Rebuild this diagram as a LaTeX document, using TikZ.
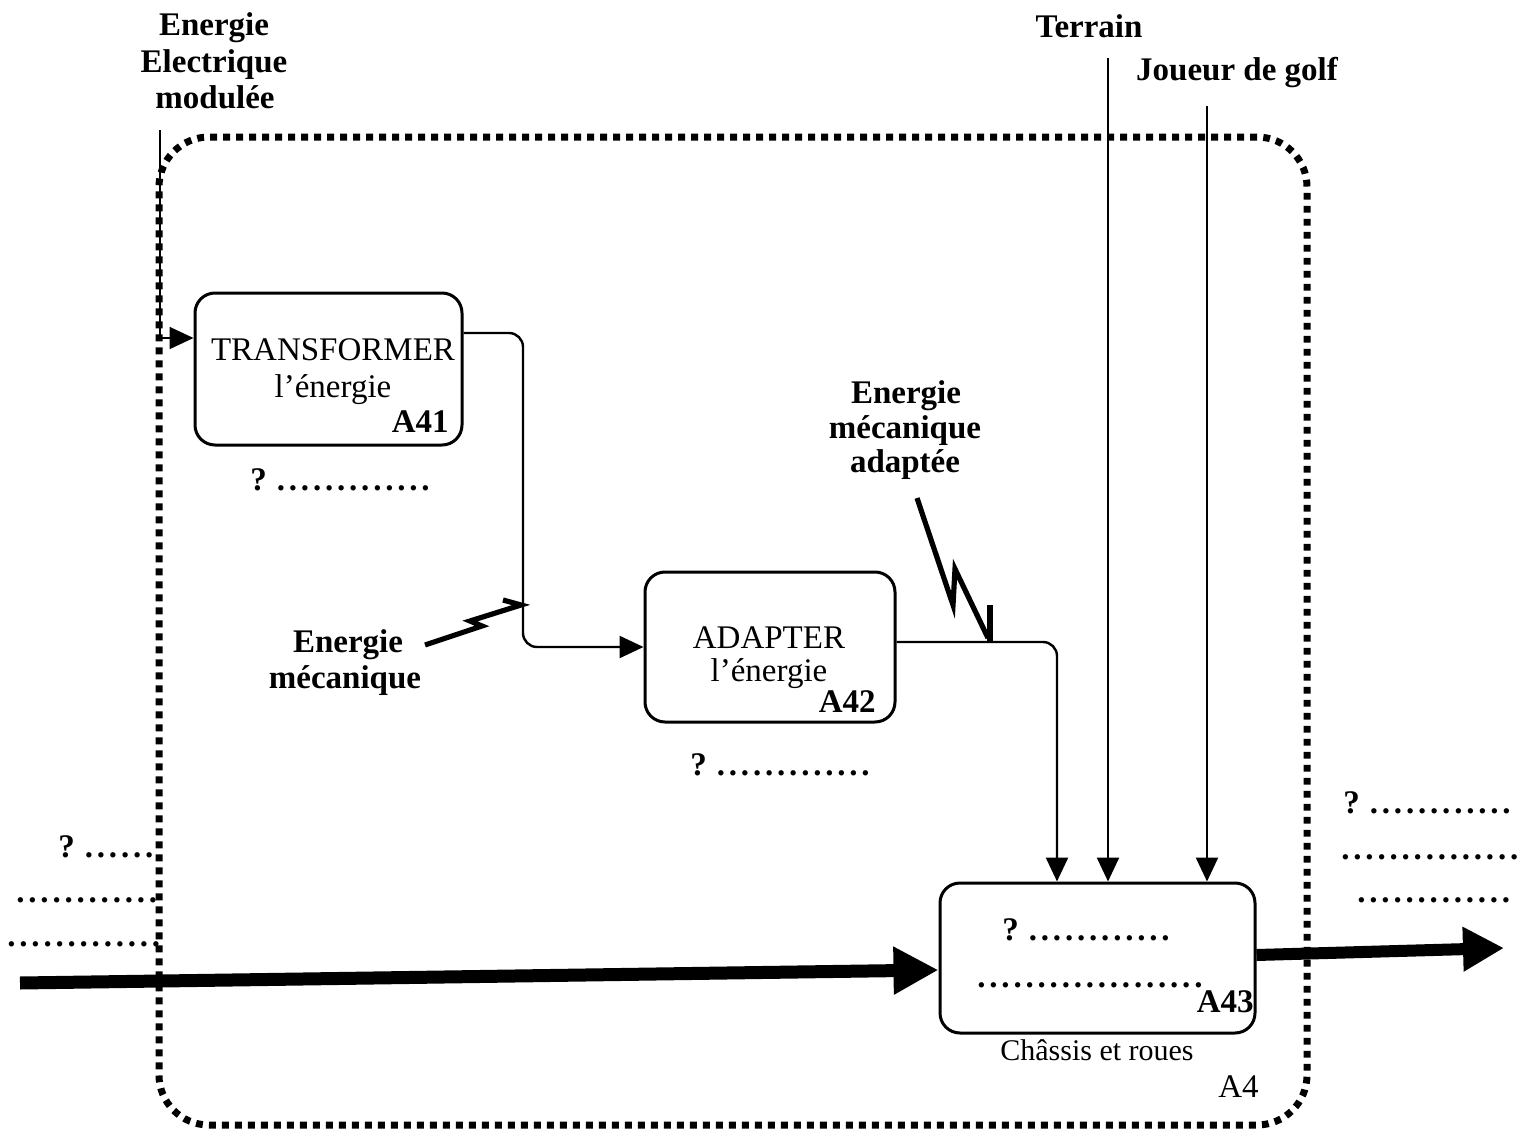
\documentclass[tikz,border=0pt]{standalone}
\usepackage{fontspec}
\setmainfont{Liberation Serif}
\usetikzlibrary{arrows.meta,calc}
\newcommand\dotrow[1]{.\foreach\i in {2,...,#1}{\kern1.9pt.}}
\begin{document}
\begin{tikzpicture}[x=0.5pt,y=-0.5pt,
  lbl/.style={font=\fontsize{16.5}{18}\selectfont\bfseries, inner sep=0pt, anchor=base},
  txt/.style={font=\fontsize{16.5}{18}\selectfont, inner sep=0pt},
  bld/.style={font=\fontsize{16.5}{18}\selectfont\bfseries, inner sep=0pt},
  func/.style={draw, line width=1.5pt, rounded corners=10pt, inner sep=0pt},
  frame/.style={draw, line width=3.5pt, dash pattern=on 3.4pt off 3.1pt, rounded corners=25pt, inner sep=0pt},
  flow/.style={line width=1.2pt, -{Triangle[length=12pt,width=11pt]}},
  bolt/.style={line width=2.6pt},
  bigflow/.style={line width=6.5pt, -{Triangle[length=22.5pt,width=22.5pt]}},
]
\useasboundingbox (0,0) rectangle (1528,1135);

% frame A4
\node[frame, minimum width=574pt, minimum height=494pt] (A4f) at (733,631) {};

% function boxes
\node[func, minimum width=133.5pt, minimum height=76pt] (A41) at (328.5,369) {};
\node[func, minimum width=125pt, minimum height=75pt] (A42) at (770,647) {};
\node[func, minimum width=157.5pt, minimum height=75pt] (A43) at (1097.5,958) {};

% box texts
\node[txt, anchor=base] (t41a) at (333,360) {TRANSFORMER};
\node[txt, anchor=base] (t41b) at (333,397) {l’énergie};
\node[bld, anchor=base east] (n41) at (449,432) {A41};
\node[txt, anchor=base] (t42a) at (769,648) {ADAPTER};
\node[txt, anchor=base] (t42b) at (769,681) {l’énergie};
\node[bld, anchor=base east] (n42) at (876,712) {A42};
\node[bld, anchor=base west] (q43a) at (1002,940) {?\kern5pt\dotrow{12}};
\node[bld, anchor=base west] (q43b) at (977,987) {\dotrow{19}};
\node[bld, anchor=base east] (n43) at (1254,1012) {A43};
\node[txt, anchor=base, font=\fontsize{15}{18}\selectfont] (chassis) at (1097,1060) {Châssis et roues};
\node[txt, anchor=base west] (n4) at (1218,1097) {A4};

% mechanism placeholders
\node[bld, anchor=base west] (q41) at (250,490) {?\kern5pt\dotrow{13}};
\node[bld, anchor=base west] (q42) at (690,775) {?\kern5pt\dotrow{13}};

% left / right placeholders
\node[bld, anchor=base west] (ql1) at (58,857) {?\kern5pt\dotrow{6}};
\node[bld, anchor=base west] (ql2) at (16,902) {\dotrow{12}};
\node[bld, anchor=base west] (ql3) at (7,946) {\dotrow{13}};
\node[bld, anchor=base west] (qr1) at (1343,813) {?\kern5pt\dotrow{12}};
\node[bld, anchor=base west] (qr2) at (1341,859) {\dotrow{15}};
\node[bld, anchor=base west] (qr3) at (1357,902) {\dotrow{13}};

% labels
\node[lbl] (e1) at (214,35) {Energie};
\node[lbl] (e2) at (214,72) {Electrique};
\node[lbl] (e3) at (215,108) {modulée};
\node[lbl] (ter) at (1089,37) {Terrain};
\node[lbl] (jou) at (1237,80) {Joueur de golf};
\node[lbl] (m1) at (348,652) {Energie};
\node[lbl] (m2) at (345,688) {mécanique};
\node[lbl] (ma1) at (906,403) {Energie};
\node[lbl] (ma2) at (905,438) {mécanique};
\node[lbl] (ma3) at (905,472) {adaptée};

% connectors
\coordinate (e0) at (160,130);
\draw[flow, line width=1pt] (e0) |- ([yshift=15.5pt]A41.west);
\coordinate (k1) at (523,500);
\draw[flow, rounded corners=7pt] ([yshift=18pt]A41.east) -| (k1) |- (A42.west);
\draw[flow, rounded corners=7pt] ([yshift=2.5pt]A42.east) -| ([xshift=-20.25pt]A43.north);
\coordinate (t0) at (1108,58);
\draw[flow] (t0) -- (t0 |- A43.north);
\coordinate (j0) at (1207,106);
\draw[flow] (j0) -- (j0 |- A43.north);

% lightning bolts
\coordinate (b1) at (425,645);
\draw[bolt] (b1) -- (482,626) -- (470,621) -- (521,605) -- (503,600);
\coordinate (b2) at (917,498);
\draw[bolt] (b2) -- (953,605) -- (955,569) -- (988,638);
\draw[bolt] (990,605) -- (990,642);

% thick flows
\coordinate (in0) at (20,983);
\draw[bigflow] (in0) -- ([yshift=-6pt]A43.west);
\coordinate (out1) at (1504,948);
\draw[bigflow, line width=6pt, -{Triangle[length=20.5pt,width=21pt]}] ([yshift=1.5pt]A43.east) -- (out1);
\end{tikzpicture}
\end{document}
